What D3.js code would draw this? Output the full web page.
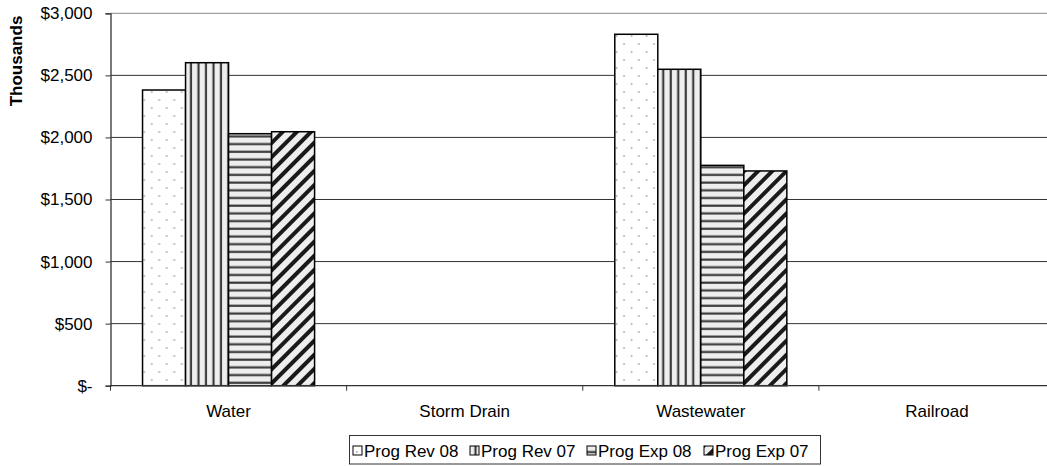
<!DOCTYPE html>
<html>
<head>
<meta charset="utf-8">
<script src="https://cdn.jsdelivr.net/npm/d3@7"></script>
<style>
body{margin:0;background:#fff;}
text{font-family:Arial,"Liberation Sans",sans-serif;fill:#000;}
</style>
</head>
<body>
<svg id="chart"></svg>
<script>
var categories=["Water","Storm Drain","Wastewater","Railroad"];
var seriesNames=["Prog Rev 08","Prog Rev 07","Prog Exp 08","Prog Exp 07"];
var progRev08=[2382,0,2831,0];
var progRev07=[2602,0,2549,0];
var progExp08=[2030,0,1775,0];
var progExp07=[2046,0,1730,0];
var yTicks=[0,500,1000,1500,2000,2500,3000];

var allSeries=[progRev08,progRev07,progExp08,progExp07];
var patternIds=["pDots","pVert","pHorz","pDiag"];

var width=1047;
var height=466;
var plotLeft=110.5, plotTop=13.3, plotBottom=385.7, plotRight=1055;

var svg=d3.select("#chart")
.attr("width",width)
.attr("height",height);

var defs=svg.append("defs");

var drawPatterns=function()
{
var dots=defs.append("pattern").attr("id","pDots")
.attr("patternUnits","userSpaceOnUse").attr("width",15).attr("height",16);
dots.append("rect").attr("width",15).attr("height",16).attr("fill","#fff");
dots.append("circle").attr("cx",3.75).attr("cy",4).attr("r",1).attr("fill","#b0b0b0");
dots.append("circle").attr("cx",11.25).attr("cy",12).attr("r",1).attr("fill","#b0b0b0");

var vert=defs.append("pattern").attr("id","pVert")
.attr("patternUnits","userSpaceOnUse").attr("width",7.5).attr("height",10);
vert.append("rect").attr("width",7.5).attr("height",10).attr("fill","#eeeeee");
vert.append("line").attr("x1",5.5).attr("x2",5.5).attr("y1",0).attr("y2",10)
.attr("stroke","#3a3a3a").attr("stroke-width",2.2);

var horz=defs.append("pattern").attr("id","pHorz")
.attr("patternUnits","userSpaceOnUse").attr("width",10).attr("height",7.7);
horz.append("rect").attr("width",10).attr("height",7.7).attr("fill","#eeeeee");
horz.append("line").attr("x1",0).attr("x2",10).attr("y1",5.5).attr("y2",5.5)
.attr("stroke","#3a3a3a").attr("stroke-width",2.2);

var diag=defs.append("pattern").attr("id","pDiag")
.attr("patternUnits","userSpaceOnUse").attr("width",10).attr("height",10)
.attr("patternTransform","rotate(45)");
diag.append("rect").attr("width",10).attr("height",10).attr("fill","#eeeeee");
diag.append("line").attr("x1",5).attr("x2",5).attr("y1",0).attr("y2",10)
.attr("stroke","#1a1a1a").attr("stroke-width",4);
}

var x0=d3.scaleBand().domain(categories).range([plotLeft,plotRight]).padding(0);
var x1=d3.scaleBand().domain(seriesNames).range([0,x0.bandwidth()])
.paddingInner(0).paddingOuter(0.745);
var y=d3.scaleLinear().domain([0,3000]).range([plotBottom,plotTop]);

var drawGrid=function()
{
svg.append("g")
.selectAll("line")
.data(yTicks.slice(1))
.enter()
.append("line")
.attr("x1",plotLeft).attr("x2",plotRight)
.attr("y1",function(d){return y(d);})
.attr("y2",function(d){return y(d);})
.attr("stroke",function(d){return d==3000?"#888":"#333";})
.attr("stroke-width",1);
}

var drawBars=function()
{
var groups=svg.append("g")
.selectAll("g")
.data(categories)
.enter()
.append("g")
.attr("transform",function(d){return "translate("+x0(d)+",0)";});

groups.selectAll("rect")
.data(function(d,i){
  return seriesNames.map(function(s,j){return {name:s,value:allSeries[j][i],k:j};});
})
.enter()
.append("rect")
.attr("x",function(d){return x1(d.name);})
.attr("y",function(d){return y(d.value);})
.attr("width",x1.bandwidth())
.attr("height",function(d){return plotBottom-y(d.value);})
.attr("fill",function(d){return "url(#"+patternIds[d.k]+")";})
.attr("stroke","#000")
.attr("stroke-width",1.5);
}

var drawAxes=function()
{
var fmt=d3.format(",");
var yAxis=d3.axisLeft(y)
.tickValues(yTicks)
.tickSize(5)
.tickPadding(13)
.tickFormat(function(d){return d==0?"$-":"$"+fmt(d);});

var ya=svg.append("g")
.attr("transform","translate("+plotLeft+",0)")
.call(yAxis);
ya.select(".domain").attr("stroke","#333").attr("stroke-width",1.3);
ya.selectAll(".tick line").attr("stroke","#333");
ya.selectAll("text").style("font-size","17px").attr("fill","#000");

svg.append("line")
.attr("x1",plotLeft).attr("x2",plotRight)
.attr("y1",plotBottom).attr("y2",plotBottom)
.attr("stroke","#333").attr("stroke-width",1.3);

var bounds=categories.map(function(c){return x0(c);});
svg.append("g")
.selectAll("line")
.data(bounds)
.enter()
.append("line")
.attr("x1",function(d){return d;})
.attr("x2",function(d){return d;})
.attr("y1",plotBottom).attr("y2",plotBottom+5)
.attr("stroke","#333");

svg.append("g")
.selectAll("text")
.data(categories)
.enter()
.append("text")
.text(function(d){return d;})
.attr("x",function(d){return x0(d)+x0.bandwidth()/2;})
.attr("y",417)
.attr("text-anchor","middle")
.style("font-size","17px");

svg.append("text")
.text("Thousands")
.attr("transform","translate(22,61) rotate(-90)")
.attr("text-anchor","middle")
.style("font-size","17px")
.style("font-weight","bold");
}

var drawLegend=function()
{
var lg=svg.append("g");
lg.append("rect")
.attr("x",349.5).attr("y",435.5)
.attr("width",471).attr("height",28.5)
.attr("fill","#fff").attr("stroke","#333");

var items=lg.selectAll("g.item")
.data(seriesNames)
.enter()
.append("g")
.attr("class","item")
.attr("transform",function(d,i){return "translate("+(353+i*117)+",0)";});

items.append("rect")
.attr("x",0).attr("y",446)
.attr("width",9).attr("height",9)
.attr("fill",function(d,i){return "url(#"+patternIds[i]+")";})
.attr("stroke","#000");

items.append("text")
.text(function(d){return d;})
.attr("x",11).attr("y",457)
.style("font-size","17px");
}

drawPatterns();
drawGrid();
drawBars();
drawAxes();
drawLegend();
</script>
</body>
</html>
